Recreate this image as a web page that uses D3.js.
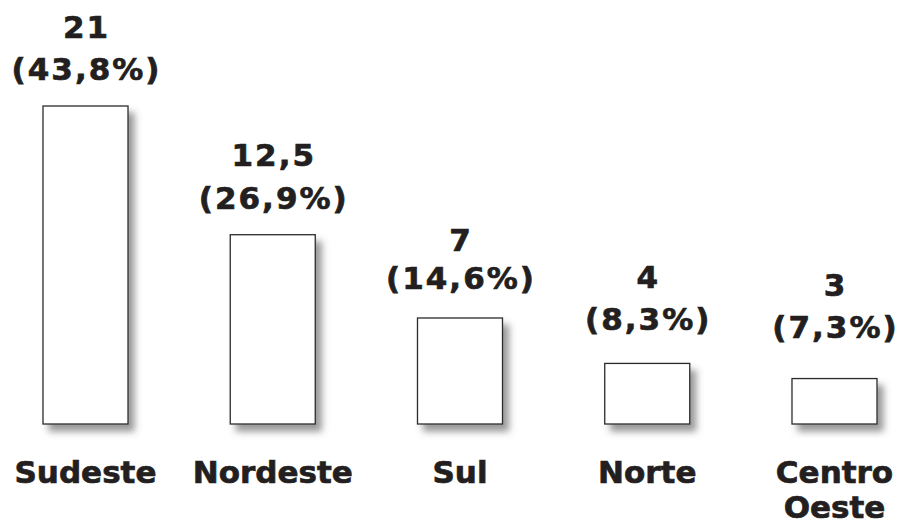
<!DOCTYPE html>
<html>
<head>
<meta charset="utf-8">
<script src="https://cdn.jsdelivr.net/npm/d3@7"></script>
<style>
  html, body { margin: 0; padding: 0; background: #fff; }
  svg { display: block; }
</style>
</head>
<body>
<svg id="chart" width="901" height="522"></svg>
<script>
const categories = ["Sudeste", "Nordeste", "Sul", "Norte", "Centro Oeste"];
const values = [21, 12.5, 7, 4, 3];
const valueLabels = ["21", "12,5", "7", "4", "3"];
const percentLabels = ["(43,8%)", "(26,9%)", "(14,6%)", "(8,3%)", "(7,3%)"];

const svg = d3.select("#chart");
const textColor = "#231f20";
const font = "'DejaVu Sans', Verdana, sans-serif";

// layout: label distance above bar top (second line) and line spacing, per bar
const labelGap = [26, 26, 29, 33, 41];
const lineGap = [42, 43, 38, 42, 42];

const x = d3.scaleBand().domain(categories).range([43, 877]).paddingInner(0.546).paddingOuter(0);
const y = d3.scaleLinear().domain([0, 21]).range([424, 106]);

const defs = svg.append("defs");
const f = defs.append("filter").attr("id", "shadow")
  .attr("x", "-30%").attr("y", "-30%").attr("width", "160%").attr("height", "160%");
f.append("feDropShadow").attr("dx", 6).attr("dy", 7).attr("stdDeviation", 3.5)
  .attr("flood-color", "#555").attr("flood-opacity", 0.6);

const data = categories.map((c, i) => ({ c, i, v: values[i], vl: valueLabels[i], pl: percentLabels[i] }));

svg.append("g").selectAll("rect").data(data).join("rect")
  .attr("x", d => x(d.c))
  .attr("y", d => y(d.v))
  .attr("width", x.bandwidth())
  .attr("height", d => y(0) - y(d.v))
  .attr("fill", "#fff")
  .attr("stroke", "#2b2b2b")
  .attr("stroke-width", 1.3)
  .attr("filter", "url(#shadow)");

const labels = svg.append("g").selectAll("g").data(data).join("g")
  .attr("transform", d => `translate(${x(d.c) + x.bandwidth() / 2},${y(d.v)})`)
  .attr("font-family", font).attr("font-weight", "bold").attr("font-size", 31)
  .attr("fill", textColor).attr("stroke", textColor).attr("stroke-width", 0.7)
  .attr("text-anchor", "middle");
labels.append("text").attr("y", d => -labelGap[d.i] - lineGap[d.i]).attr("letter-spacing", 2).attr("dx", 1).text(d => d.vl);
labels.append("text").attr("y", d => -labelGap[d.i]).attr("letter-spacing", 2).attr("dx", 1).text(d => d.pl);

const cat = svg.append("g").selectAll("text").data(data).join("text")
  .attr("x", d => x(d.c) + x.bandwidth() / 2)
  .attr("y", 483)
  .attr("font-family", font).attr("font-weight", "bold").attr("font-size", 31)
  .attr("fill", textColor).attr("stroke", textColor).attr("stroke-width", 0.7)
  .attr("text-anchor", "middle");
cat.each(function(d) {
  const words = d.c.split(" ");
  const t = d3.select(this);
  words.forEach((w, i) => {
    t.append("tspan").attr("x", x(d.c) + x.bandwidth() / 2).attr("dy", i === 0 ? 0 : 35).text(w);
  });
});
</script>
</body>
</html>
